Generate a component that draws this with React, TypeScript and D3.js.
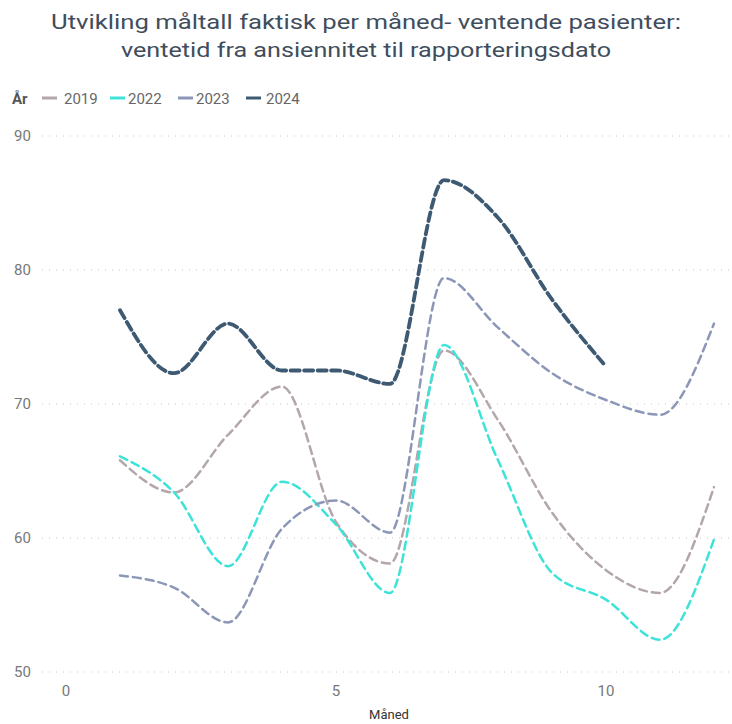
import React from "react";
import * as d3 from "d3";

const months = [1, 2, 3, 4, 5, 6, 7, 8, 9, 10, 11, 12];
const v2019 = [65.8, 63.4, 67.7, 71.3, 61.2, 58.1, 74.0, 68.8, 61.9, 57.6, 55.9, 63.8];
const v2022 = [66.1, 63.4, 57.9, 64.2, 61.0, 55.9, 74.4, 65.8, 57.4, 55.4, 52.4, 59.9];
const v2023 = [57.2, 56.3, 53.7, 60.7, 62.8, 60.4, 79.4, 75.7, 72.3, 70.3, 69.2, 76.0];
const v2024 = [77.0, 72.3, 76.0, 72.5, 72.5, 71.5, 86.7, 83.9, 77.8, 72.8];
const yTicks = [50, 60, 70, 80, 90];
const xTicks = [0, 5, 10];
const titleLines = [
  "Utvikling måltall faktisk per måned- ventende pasienter:",
  "ventetid fra ansiennitet til rapporteringsdato",
];

const series = [
  { name: "2019", values: v2019, color: "#B3A6AC", width: 2.5, dash: "8,5" },
  { name: "2022", values: v2022, color: "#3DE3D8", width: 2.5, dash: "8,5" },
  { name: "2023", values: v2023, color: "#8C97B7", width: 2.5, dash: "8,5" },
  { name: "2024", values: v2024, color: "#3E5A72", width: 3.8, dash: "9,4.5" },
];

export default function App() {
  const W = 732, H = 724;
  const x = d3.scaleLinear().domain([0, 10]).range([66, 606]);
  const y = d3.scaleLinear().domain([50, 90]).range([672, 136]);
  const line = d3
    .line<[number, number]>()
    .x((d) => x(d[0]))
    .y((d) => y(d[1]))
    .curve(d3.curveMonotoneX);
  const font = "Roboto, 'DejaVu Sans', sans-serif";
  const legendItems = [
    { lx: 42, tx: 64 },
    { lx: 110, tx: 128 },
    { lx: 178, tx: 196 },
    { lx: 246, tx: 266 },
  ];
  return (
    <svg
      width={W}
      height={H}
      style={{ position: "absolute", left: 0, top: 0, background: "#fff" }}
      fontFamily={font}
    >
      {titleLines.map((t, i) => (
        <text
          key={i}
          x={366}
          y={29 + i * 28}
          textAnchor="middle"
          fontSize={20}
          fill="#3F4D5C"
          textLength={i === 0 ? 630 : 490}
          lengthAdjust="spacingAndGlyphs"
        >
          {t}
        </text>
      ))}
      <text x={12} y={104} fontSize={15} fontWeight="bold" fill="#555">
        År
      </text>
      {series.map((s, i) => (
        <g key={s.name}>
          <line
            x1={legendItems[i].lx}
            x2={legendItems[i].lx + 15}
            y1={98}
            y2={98}
            stroke={s.color}
            strokeWidth={3}
          />
          <text x={legendItems[i].tx} y={104} fontSize={15} fill="#666">
            {s.name}
          </text>
        </g>
      ))}
      {yTicks.map((t) => (
        <g key={t}>
          <line
            x1={42}
            x2={732}
            y1={y(t)}
            y2={y(t)}
            stroke="#C8C8C8"
            strokeWidth={1}
            strokeDasharray="1,6"
          />
          <text x={14} y={y(t) + 5} fontSize={15} fill="#777">
            {t}
          </text>
        </g>
      ))}
      {xTicks.map((t) => (
        <text key={t} x={x(t)} y={696} fontSize={15} fill="#777" textAnchor="middle">
          {t}
        </text>
      ))}
      <text x={389} y={719} fontSize={13} fill="#333" textAnchor="middle">
        Måned
      </text>
      {series.map((s) => (
        <path
          key={s.name}
          d={line(s.values.map((v, i) => [months[i], v] as [number, number])) || ""}
          fill="none"
          stroke={s.color}
          strokeWidth={s.width}
          strokeDasharray={s.dash}
          strokeLinecap="round"
        />
      ))}
    </svg>
  );
}
